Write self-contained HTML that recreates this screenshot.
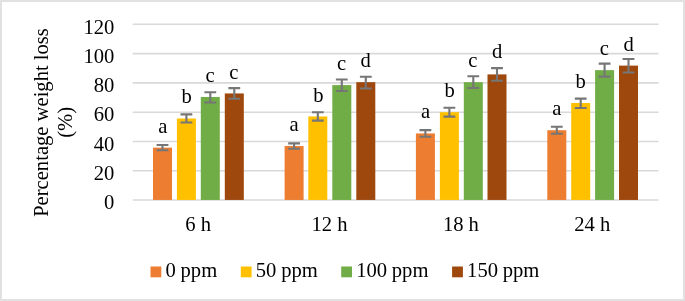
<!DOCTYPE html>
<html><head><meta charset="utf-8"><title>Percentage weight loss</title>
<style>html,body{margin:0;padding:0;background:#fff}svg{display:block}text{font-family:"Liberation Serif","Times New Roman",serif;font-size:20.6px;fill:#000}</style></head><body>
<svg width="685" height="301" viewBox="0 0 685 301">
<rect x="0" y="0" width="685" height="301" fill="#fff"/>
<rect x="1" y="1" width="683" height="299" fill="none" stroke="#e1e1e1" stroke-width="2"/>
<line x1="132.7" y1="199.95" x2="658.5" y2="199.95" stroke="#d9d9d9" stroke-width="1.6"/>
<line x1="132.7" y1="170.80" x2="658.5" y2="170.80" stroke="#d9d9d9" stroke-width="1.6"/>
<line x1="132.7" y1="141.50" x2="658.5" y2="141.50" stroke="#d9d9d9" stroke-width="1.6"/>
<line x1="132.7" y1="112.20" x2="658.5" y2="112.20" stroke="#d9d9d9" stroke-width="1.6"/>
<line x1="132.7" y1="82.90" x2="658.5" y2="82.90" stroke="#d9d9d9" stroke-width="1.6"/>
<line x1="132.7" y1="53.60" x2="658.5" y2="53.60" stroke="#d9d9d9" stroke-width="1.6"/>
<line x1="132.7" y1="24.30" x2="658.5" y2="24.30" stroke="#d9d9d9" stroke-width="1.6"/>
<text x="114.3" y="209.3" text-anchor="end">0</text>
<text x="114.3" y="180.0" text-anchor="end">20</text>
<text x="114.3" y="150.8" text-anchor="end">40</text>
<text x="114.3" y="121.4" text-anchor="end">60</text>
<text x="114.3" y="92.1" text-anchor="end">80</text>
<text x="114.3" y="62.8" text-anchor="end">100</text>
<text x="114.3" y="33.5" text-anchor="end">120</text>
<rect x="153.0" y="147.65" width="19.0" height="52.30" fill="#ED7D31"/>
<rect x="176.9" y="118.50" width="19.0" height="81.45" fill="#FFC000"/>
<rect x="200.8" y="96.96" width="19.0" height="102.99" fill="#70AD47"/>
<rect x="224.8" y="93.44" width="19.0" height="106.51" fill="#9E480E"/>
<rect x="284.6" y="146.04" width="19.0" height="53.91" fill="#ED7D31"/>
<rect x="308.3" y="116.44" width="19.0" height="83.51" fill="#FFC000"/>
<rect x="332.3" y="85.09" width="19.0" height="114.86" fill="#70AD47"/>
<rect x="356.3" y="82.16" width="19.0" height="117.79" fill="#9E480E"/>
<rect x="415.9" y="133.44" width="19.0" height="66.51" fill="#ED7D31"/>
<rect x="439.9" y="112.20" width="19.0" height="87.75" fill="#FFC000"/>
<rect x="463.8" y="82.16" width="19.0" height="117.79" fill="#70AD47"/>
<rect x="487.5" y="74.40" width="19.0" height="125.55" fill="#9E480E"/>
<rect x="547.3" y="130.22" width="19.0" height="69.73" fill="#ED7D31"/>
<rect x="571.2" y="102.97" width="19.0" height="96.98" fill="#FFC000"/>
<rect x="595.1" y="70.15" width="19.0" height="129.80" fill="#70AD47"/>
<rect x="619.0" y="65.61" width="19.0" height="134.34" fill="#9E480E"/>
<path d="M162.5 145.03V150.26M156.6 145.03h11.8M156.6 150.26h11.8" stroke="#767676" stroke-width="2.1" fill="none"/>
<path d="M186.4 114.42V122.57M180.5 114.42h11.8M180.5 122.57h11.8" stroke="#767676" stroke-width="2.1" fill="none"/>
<path d="M210.3 92.21V102.51M204.4 92.21h11.8M204.4 102.51h11.8" stroke="#767676" stroke-width="2.1" fill="none"/>
<path d="M234.3 88.12V98.77M228.4 88.12h11.8M228.4 98.77h11.8" stroke="#767676" stroke-width="2.1" fill="none"/>
<path d="M294.1 143.34V148.73M288.2 143.34h11.8M288.2 148.73h11.8" stroke="#767676" stroke-width="2.1" fill="none"/>
<path d="M317.8 112.27V120.62M311.9 112.27h11.8M311.9 120.62h11.8" stroke="#767676" stroke-width="2.1" fill="none"/>
<path d="M341.8 79.55V91.04M335.9 79.55h11.8M335.9 91.04h11.8" stroke="#767676" stroke-width="2.1" fill="none"/>
<path d="M365.8 76.72V88.50M359.9 76.72h11.8M359.9 88.50h11.8" stroke="#767676" stroke-width="2.1" fill="none"/>
<path d="M425.4 130.11V136.76M419.5 130.11h11.8M419.5 136.76h11.8" stroke="#767676" stroke-width="2.1" fill="none"/>
<path d="M449.4 107.81V116.58M443.5 107.81h11.8M443.5 116.58h11.8" stroke="#767676" stroke-width="2.1" fill="none"/>
<path d="M473.3 76.27V88.05M467.4 76.27h11.8M467.4 88.05h11.8" stroke="#767676" stroke-width="2.1" fill="none"/>
<path d="M497.0 68.12V80.68M491.1 68.12h11.8M491.1 80.68h11.8" stroke="#767676" stroke-width="2.1" fill="none"/>
<path d="M556.8 126.73V133.70M550.9 126.73h11.8M550.9 133.70h11.8" stroke="#767676" stroke-width="2.1" fill="none"/>
<path d="M580.7 98.66V108.07M574.8 98.66h11.8M574.8 108.07h11.8" stroke="#767676" stroke-width="2.1" fill="none"/>
<path d="M604.6 63.66V76.64M598.7 63.66h11.8M598.7 76.64h11.8" stroke="#767676" stroke-width="2.1" fill="none"/>
<path d="M628.5 59.04V72.48M622.6 59.04h11.8M622.6 72.48h11.8" stroke="#767676" stroke-width="2.1" fill="none"/>
<text x="162.80" y="133.10" text-anchor="middle">a</text>
<text x="186.55" y="103.10" text-anchor="middle">b</text>
<text x="209.95" y="82.30" text-anchor="middle">c</text>
<text x="233.80" y="78.70" text-anchor="middle">c</text>
<text x="294.15" y="130.90" text-anchor="middle">a</text>
<text x="318.45" y="101.70" text-anchor="middle">b</text>
<text x="341.55" y="70.20" text-anchor="middle">c</text>
<text x="365.75" y="67.00" text-anchor="middle">d</text>
<text x="425.45" y="118.10" text-anchor="middle">a</text>
<text x="449.55" y="97.10" text-anchor="middle">b</text>
<text x="472.85" y="67.10" text-anchor="middle">c</text>
<text x="497.05" y="58.30" text-anchor="middle">d</text>
<text x="556.70" y="114.70" text-anchor="middle">a</text>
<text x="580.75" y="88.10" text-anchor="middle">b</text>
<text x="604.35" y="54.90" text-anchor="middle">c</text>
<text x="628.55" y="50.50" text-anchor="middle">d</text>
<text x="198.2" y="230.8" text-anchor="middle">6 h</text>
<text x="329.6" y="230.8" text-anchor="middle">12 h</text>
<text x="460.9" y="230.8" text-anchor="middle">18 h</text>
<text x="592.3" y="230.8" text-anchor="middle">24 h</text>
<text transform="translate(48.25 122.5) rotate(-90)" text-anchor="middle">Percentage weight loss</text>
<text transform="translate(71.6 122.4) rotate(-90)" text-anchor="middle">(%)</text>
<rect x="150.5" y="266.5" width="10.8" height="10.8" fill="#ED7D31"/>
<text x="165.5" y="277.1" word-spacing="-0.4">0 ppm</text>
<rect x="240.8" y="266.5" width="10.8" height="10.8" fill="#FFC000"/>
<text x="255.8" y="277.1" word-spacing="-0.4">50 ppm</text>
<rect x="341.2" y="266.5" width="10.8" height="10.8" fill="#70AD47"/>
<text x="356.2" y="277.1" word-spacing="-0.4">100 ppm</text>
<rect x="452.1" y="266.5" width="10.8" height="10.8" fill="#9E480E"/>
<text x="467.1" y="277.1" word-spacing="-0.4">150 ppm</text>
</svg></body></html>
